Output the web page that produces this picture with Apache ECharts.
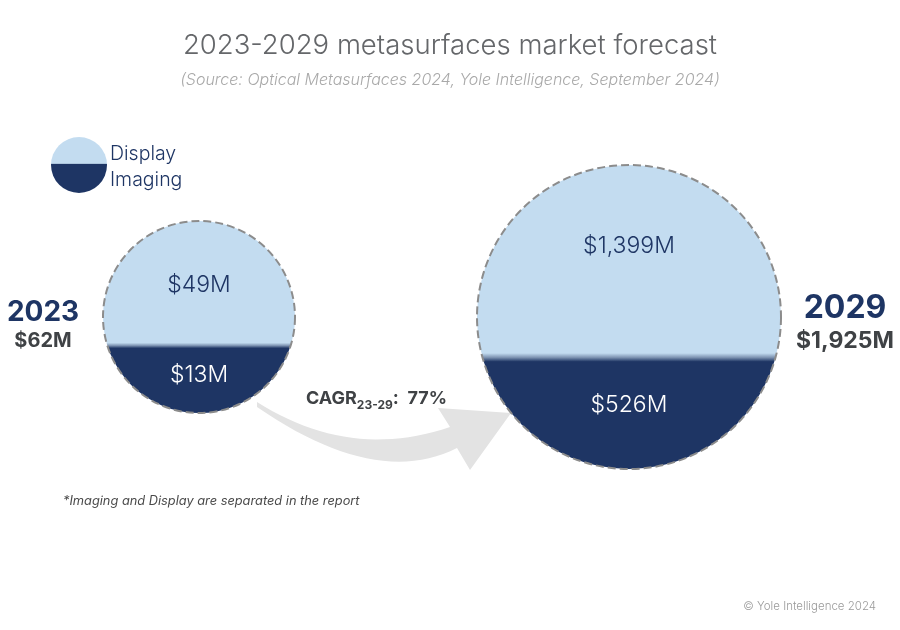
<!DOCTYPE html>
<html>
<head>
<meta charset="utf-8">
<script src="https://cdn.jsdelivr.net/npm/echarts@6/dist/echarts.min.js"></script>
<style>
  html, body { margin: 0; padding: 0; background: #fff; }
  #chart { width: 900px; height: 630px; }
</style>
</head>
<body>
<div id="chart"></div>
<script>
// values
var years      = ['2023', '2029'];
var display    = [49, 1399];
var imaging    = [13, 526];
var totals     = [62, 1925];
var fillLevel  = [0.353, 0.368];   // dark fill height, share of the circle height
var cagr       = '77%';

// look
var circleRadius = [96, 152];
var topLabelDy   = [-0.333, -0.467];
var botLabelDy   = [0.604, 0.579];
var yearDx       = [-60, 64];
var yearDy       = [-4, -9];
var yearSize     = [28, 32];
var totalSize    = [20, 23];
var LIGHT = '#C3DCF0', NAVY = '#1E3564', GREY = '#3F4245';
var FONT = 'Inter, "Noto Sans", sans-serif';

function money(v) { return '$' + v.toLocaleString('en-US') + 'M'; }

function splitFill(level, soft) {
	var s = 1 - level;
	return {
		type: 'linear', x: 0, y: 0, x2: 0, y2: 1,
		colorStops: [
			{offset: 0, color: LIGHT},
			{offset: s - soft, color: LIGHT},
			{offset: s, color: '#7F95B3'},
			{offset: s + soft, color: NAVY},
			{offset: 1, color: NAVY}
		]
	};
}

// quadratic curve sampled into points
function quad(p0, c, p1, n) {
	var out = [];
	for (var k = 0; k <= n; k++) {
		var t = k / n, u = 1 - t;
		out.push([u * u * p0[0] + 2 * u * t * c[0] + t * t * p1[0],
		          u * u * p0[1] + 2 * u * t * c[1] + t * t * p1[1]]);
	}
	return out;
}

var arrowPts = quad([257, 402], [350, 461], [450, 427], 24)
	.concat([[438, 408], [511, 413], [470, 470]])
	.concat(quad([457, 448], [376, 489], [257, 407], 24));

var chart = echarts.init(document.getElementById('chart'));

var option = {
	animation: false,
	title: {
		text: '2023-2029 metasurfaces market forecast',
		subtext: '(Source: Optical Metasurfaces 2024, Yole Intelligence, September 2024)',
		left: 'center',
		top: 27,
		itemGap: 12,
		textStyle: {fontFamily: FONT, fontSize: 27.5, fontWeight: 300, color: '#65676A'},
		subtextStyle: {fontFamily: FONT, fontSize: 16, fontStyle: 'italic', fontWeight: 300, color: '#A9A9A9'}
	},
	grid: {left: 199, right: 271, top: 217, bottom: 213},
	xAxis: {type: 'category', data: years, boundaryGap: false, show: false},
	yAxis: {type: 'value', min: -1, max: 1, show: false},
	graphic: [
		{	// CAGR arrow
			type: 'polygon', z: 0,
			shape: {points: arrowPts},
			style: {fill: '#E3E3E3'}
		},
		{
			type: 'text', left: 306, top: 390, z: 5,
			style: {
				text: '{b|CAGR}{s|23-29}{b|:  ' + cagr + '}',
				rich: {
					b: {fontFamily: FONT, fontSize: 18, fontWeight: 'bold', fill: GREY, verticalAlign: 'bottom'},
					s: {fontFamily: FONT, fontSize: 12, fontWeight: 'bold', fill: GREY, verticalAlign: 'bottom', padding: [0, 0, -3, 0]}
				}
			}
		},
		{	// legend
			type: 'circle', z: 5,
			shape: {cx: 79, cy: 165, r: 28},
			style: {fill: splitFill(0.52, 0.01)}
		},
		{type: 'text', left: 110, top: 144, z: 5,
			style: {text: 'Display', font: '300 19.5px ' + FONT, fill: NAVY}},
		{type: 'text', left: 110, top: 170, z: 5,
			style: {text: 'Imaging', font: '300 19.5px ' + FONT, fill: NAVY}},
		{type: 'text', left: 63, top: 495, z: 5,
			style: {text: '*Imaging and Display are separated in the report',
				font: 'italic 12.8px ' + FONT, fill: '#4A4A4A'}},
		{type: 'text', right: 24, top: 601, z: 5,
			style: {text: '\u00A9 Yole Intelligence 2024', font: '300 11.5px ' + FONT, fill: '#9A9A9A'}}
	],
	series: [{
		type: 'custom',
		z: 3,
		data: years.map(function(y, i) { return [i, 0]; }),
		renderItem: function(params, api) {
			var i = params.dataIndex;
			var c = api.coord([api.value(0), api.value(1)]);
			var r = circleRadius[i];
			var sx = c[0] + (i === 0 ? -r : r) + yearDx[i];
			return {
				type: 'group',
				children: [
					{
						type: 'circle',
						shape: {cx: c[0], cy: c[1], r: r},
						style: {fill: splitFill(fillLevel[i], 0.014), stroke: '#8C8C8C', lineWidth: 2, lineDash: [8, 4]}
					},
					{
						type: 'text',
						style: {text: money(display[i]), x: c[0], y: c[1] + r * topLabelDy[i],
							font: '300 23px ' + FONT, fill: NAVY, align: 'center', verticalAlign: 'middle'}
					},
					{
						type: 'text',
						style: {text: money(imaging[i]), x: c[0], y: c[1] + r * botLabelDy[i],
							font: '300 23px ' + FONT, fill: '#FFFFFF', align: 'center', verticalAlign: 'middle'}
					},
					{
						type: 'text',
						style: {text: years[i], x: sx, y: c[1] + yearDy[i],
							font: 'bold ' + yearSize[i] + 'px ' + FONT, fill: NAVY, align: 'center', verticalAlign: 'middle'}
					},
					{
						type: 'text',
						style: {text: money(totals[i]), x: sx, y: c[1] + 24,
							font: 'bold ' + totalSize[i] + 'px ' + FONT, fill: GREY, align: 'center', verticalAlign: 'middle'}
					}
				]
			};
		}
	}]
};

chart.setOption(option);
</script>
</body>
</html>
